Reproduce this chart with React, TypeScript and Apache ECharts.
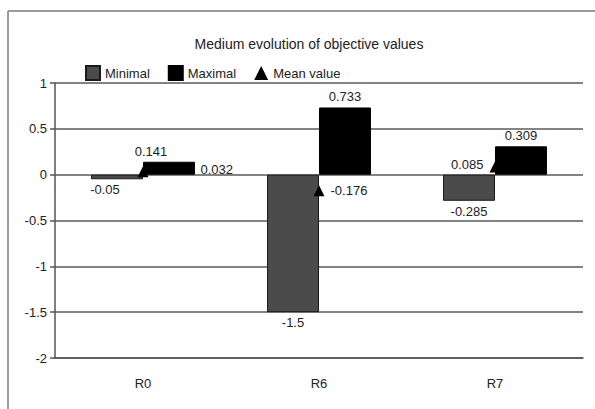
import React, { useEffect, useRef } from "react";
import * as echarts from "echarts";

const categories = ["R0", "R6", "R7"];
const minimalValues = [-0.05, -1.5, -0.285];
const maximalValues = [0.141, 0.733, 0.309];
const meanValues = [0.032, -0.176, 0.085];
const yTicks = { min: -2, max: 1, interval: 0.5 };

const FONT = "Liberation Sans";
const FS = 13;

export default function App() {
  const ref = useRef<HTMLDivElement>(null);
  useEffect(() => {
    if (!ref.current) return;
    const chart = echarts.init(ref.current, undefined, { renderer: "svg" });
    const lblBase = { show: true, color: "#222", fontSize: FS, fontFamily: FONT };
    chart.setOption({
      animation: false,
      backgroundColor: "#fff",
      textStyle: { fontFamily: FONT },
      title: {
        text: "Medium evolution of objective values",
        left: 304,
        textAlign: "center",
        top: 32,
        textStyle: { fontSize: 14, fontWeight: "normal", color: "#222", fontFamily: FONT },
      },
      legend: {
        left: 80,
        top: 60,
        itemWidth: 14,
        itemHeight: 14,
        itemGap: 18,
        textStyle: { fontSize: FS, color: "#222", fontFamily: FONT, padding: [0, 0, 0, 0] },
        data: [
          { name: "Minimal", icon: "rect" },
          { name: "Maximal", icon: "rect" },
          { name: "Mean value", icon: "triangle", itemStyle: { borderWidth: 0 } },
        ],
      },
      grid: { left: 55, right: 12, top: 83, bottom: 51 },
      xAxis: {
        type: "category",
        data: categories,
        axisLine: { onZero: false, lineStyle: { color: "#555", width: 1.5 } },
        axisTick: { show: false },
        axisLabel: { color: "#222", fontSize: FS, margin: 19, fontFamily: FONT },
      },
      yAxis: {
        type: "value",
        min: yTicks.min,
        max: yTicks.max,
        interval: yTicks.interval,
        axisLine: { show: true, lineStyle: { color: "#555", width: 1.5 } },
        axisTick: { show: true, length: 5, lineStyle: { color: "#555", width: 1.5 } },
        axisLabel: { color: "#222", fontSize: FS, margin: 8, fontFamily: FONT },
        splitLine: { show: true, lineStyle: { color: "#5a5a5a", width: 1.6 } },
      },
      series: [
        {
          name: "Minimal",
          type: "bar",
          data: minimalValues.map((v, i) => ({
            value: v,
            label: { ...lblBase, position: "bottom", distance: 4, offset: i === 0 ? [-12, 0] : [0, 0] },
          })),
          barWidth: 52,
          barGap: "0%",
          itemStyle: { color: "#4b4b4b", borderColor: "#1a1a1a", borderWidth: 1 },
        },
        {
          name: "Maximal",
          type: "bar",
          data: maximalValues.map((v, i) => ({
            value: v,
            label: { ...lblBase, position: "top", distance: 4, offset: i === 0 ? [-18, 0] : [0, 0] },
          })),
          barWidth: 52,
          barGap: "0%",
          itemStyle: { color: "#000", borderColor: "#000", borderWidth: 1 },
        },
        {
          name: "Mean value",
          type: "scatter",
          symbol: "triangle",
          symbolSize: 11,
          data: meanValues.map((v, i) => ({
            value: v,
            label: {
              ...lblBase,
              position: i === 2 ? "left" : "right",
              distance: i === 0 ? 52 : 6,
              offset: i === 0 ? [0, -2] : i === 2 ? [0, -2] : [0, 0],
            },
          })),
          itemStyle: { color: "#000", opacity: 1 },
          z: 5,
        },
      ],
      graphic: [
        { type: "line", shape: { x1: 8, y1: 11, x2: 595, y2: 11 }, style: { stroke: "#9a9a9a", lineWidth: 2 } },
        { type: "line", shape: { x1: 8, y1: 11, x2: 8, y2: 409 }, style: { stroke: "#9a9a9a", lineWidth: 2 } },
      ],
    });
    return () => chart.dispose();
  }, []);
  return (
    <div
      ref={ref}
      style={{ position: "fixed", left: 0, top: 0, width: 595, height: 409 }}
    />
  );
}
